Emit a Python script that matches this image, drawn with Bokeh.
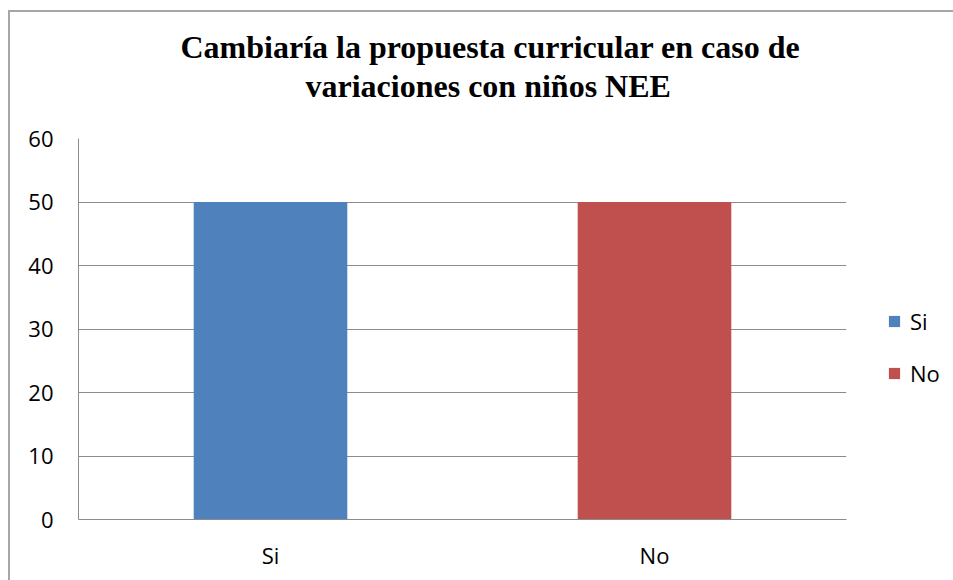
from bokeh.plotting import figure
from bokeh.models import Legend, LegendItem, Title, FactorRange, Range1d, FixedTicker
from bokeh.embed import file_html
from bokeh.resources import INLINE

categories = ["Si", "No"]
values = [50, 50]
colors = ["#4F81BD", "#C0504D"]
y_ticks = [0, 10, 20, 30, 40, 50, 60]
title_lines = ["Cambiaría la propuesta curricular en caso de", "variaciones con niños NEE"]

GRID = "#8c8c8c"
LABEL_FONT = "Open Sans"

p = figure(x_range=FactorRange(*categories, range_padding=0), y_range=Range1d(0, 60),
           frame_width=768, frame_height=381, output_backend="svg", toolbar_location=None,
           min_border_left=68, min_border_top=126, min_border_right=107, min_border_bottom=61)
p.title = None
p.styles = {"border-left": "2px solid #a6a6a6", "border-top": "2px solid #a6a6a6",
            "margin-left": "8px", "margin-top": "10px"}

renderers = []
for cat, val, col in zip(categories, values, colors):
    r = p.vbar(x=[cat], top=[val], width=0.4, fill_color=col, line_color=None)
    renderers.append(r)

p.outline_line_color = None
p.xgrid.grid_line_color = None
p.ygrid.grid_line_color = GRID
p.ygrid.grid_line_width = 1
p.yaxis.ticker = FixedTicker(ticks=y_ticks)

for ax in (p.xaxis, p.yaxis):
    ax.axis_line_color = GRID
    ax.axis_line_width = 1
    ax.major_tick_line_color = None
    ax.major_tick_out = 0
    ax.major_tick_in = 0
    ax.minor_tick_line_color = None
    ax.minor_tick_out = 0
    ax.major_label_text_font = LABEL_FONT
    ax.major_label_text_font_size = "22px"
    ax.major_label_text_color = "#000000"
p.yaxis.major_label_standoff = 25
p.xaxis.major_label_standoff = 20

legend = Legend(items=[LegendItem(label=c, renderers=[r]) for c, r in zip(categories, renderers)],
                location=(41, 131), padding=0, margin=0, border_line_color=None,
                background_fill_alpha=0, glyph_width=14, glyph_height=14, label_standoff=9,
                label_height=26, spacing=22, label_text_font=LABEL_FONT,
                label_text_font_size="22px", label_text_color="#000000")
p.add_layout(legend, "right")

# second line first: the last title added sits on top
p.add_layout(Title(text=title_lines[1], align="left", offset=227, standoff=69,
                   text_font="Liberation Serif", text_font_style="bold",
                   text_font_size="32px", text_color="#000000"), "above")
p.add_layout(Title(text=title_lines[0], align="left", offset=102, standoff=-66,
                   text_font="Liberation Serif", text_font_style="bold",
                   text_font_size="32px", text_color="#000000"), "above")

open("out.html", "w").write(file_html(p, INLINE))
